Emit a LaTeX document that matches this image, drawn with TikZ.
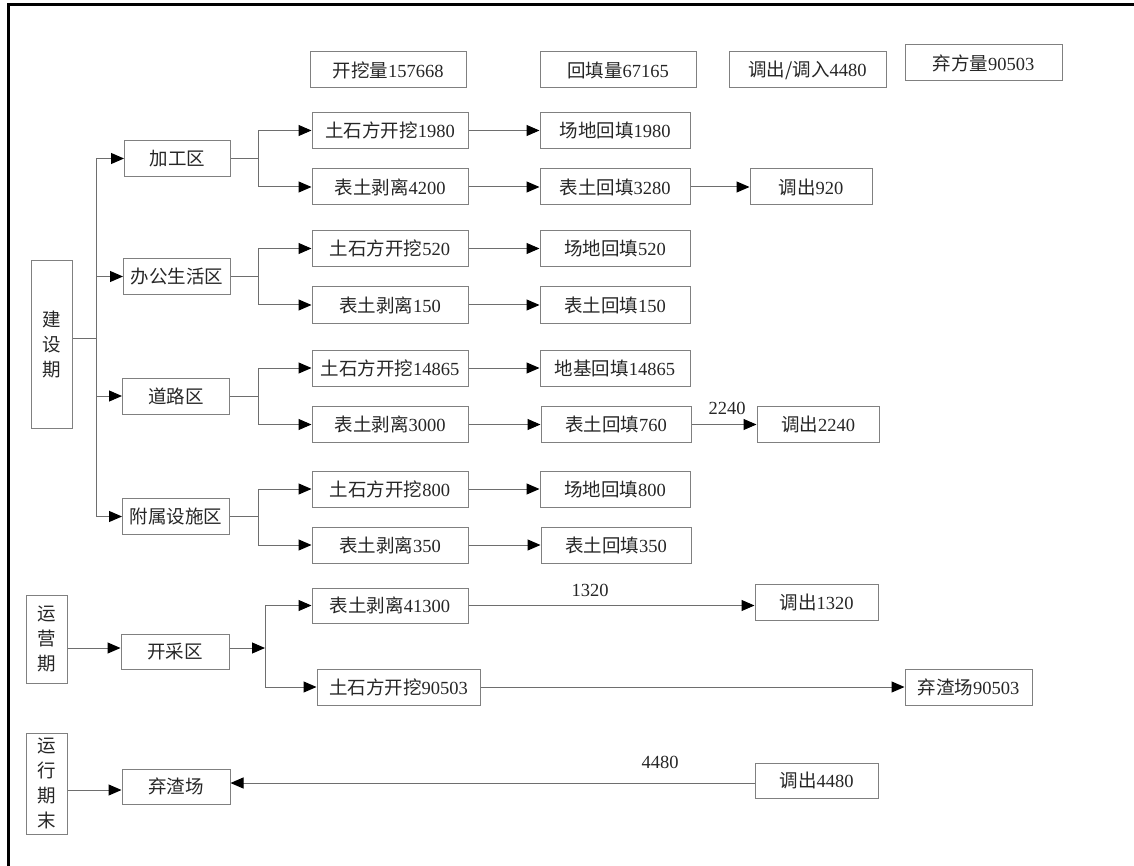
\documentclass[tikz,border=0pt]{standalone}
\usepackage{fontspec}
\setmainfont{Liberation Serif}
\newfontfamily\cjk{Noto Sans CJK SC}
\newcommand\zh[1]{{\cjk #1}}
\usetikzlibrary{arrows.meta}
\definecolor{boxgray}{RGB}{128,128,128}
\definecolor{linegray}{RGB}{110,110,110}
\tikzset{
  box/.style={draw=boxgray, line width=1pt, minimum height=36pt, inner sep=0pt,
    font=\fontsize{18.5}{25}\selectfont, text=black!85},
  vbox/.style={box, align=center, text width=41pt},
  conn/.style={draw=linegray, line width=1pt},
  arr/.style={conn, -{Triangle[length=13pt,width=11pt,color=black]}},
  lbl/.style={font=\fontsize{18.5}{20}\selectfont, inner sep=0pt, text=black!85}
}
\begin{document}
\begin{tikzpicture}[x=1pt,y=-1pt]
\useasboundingbox (0,0) rectangle (1134,866);
\draw[line width=3pt] (8,866) -- (8,5) -- (1134,5);

% summary boxes
\node[box, minimum width=156pt] (sum1) at (388,70) {\zh{开挖量}157668};
\node[box, minimum width=156pt] (sum2) at (618,70) {\zh{回填量}67165};
\node[box, minimum width=157pt] (sum3) at (807.5,70) {\zh{调出/调入}4480};
\node[box, minimum width=157pt] (sum4) at (983.5,63) {\zh{弃方量}90503};

% construction period
\node[vbox, minimum height=167pt] (jsq) at (51.5,344.5) {\zh{建}\\\zh{设}\\\zh{期}};
\node[box, minimum width=106pt] (jgq) at (177.5,158.5) {\zh{加工区}};
\node[box, minimum width=107pt] (bg) at (177,276.5) {\zh{办公生活区}};
\node[box, minimum width=107pt] (dl) at (176,396) {\zh{道路区}};
\node[box, minimum width=107pt] (fs) at (176,516.5) {\zh{附属设施区}};

\node[box, minimum width=156pt] (a1) at (390,130.5) {\zh{土石方开挖}1980};
\node[box, minimum width=156pt] (a2) at (390,187) {\zh{表土剥离}4200};
\node[box, minimum width=156pt] (b1) at (390,248.5) {\zh{土石方开挖}520};
\node[box, minimum width=156pt] (b2) at (390,305) {\zh{表土剥离}150};
\node[box, minimum width=156pt] (c1) at (390,368) {\zh{土石方开挖}14865};
\node[box, minimum width=156pt] (c2) at (390,424.5) {\zh{表土剥离}3000};
\node[box, minimum width=156pt] (d1) at (390,489) {\zh{土石方开挖}800};
\node[box, minimum width=156pt] (d2) at (390,545) {\zh{表土剥离}350};

\node[box, minimum width=150pt] (a1r) at (615,130.5) {\zh{场地回填}1980};
\node[box, minimum width=150pt] (a2r) at (615,187) {\zh{表土回填}3280};
\node[box, minimum width=150pt] (b1r) at (615,248.5) {\zh{场地回填}520};
\node[box, minimum width=150pt] (b2r) at (615,305) {\zh{表土回填}150};
\node[box, minimum width=150pt] (c1r) at (615,368) {\zh{地基回填}14865};
\node[box, minimum width=150pt] (c2r) at (616,424.5) {\zh{表土回填}760};
\node[box, minimum width=150pt] (d1r) at (615,489) {\zh{场地回填}800};
\node[box, minimum width=150pt] (d2r) at (616,545) {\zh{表土回填}350};

\node[box, minimum width=122pt] (a2x) at (811,187) {\zh{调出}920};
\node[box, minimum width=122pt] (c2x) at (818,424.5) {\zh{调出}2240};

\coordinate (t1) at (96,338);
\draw[conn] (jsq.east |- t1) -- (t1);
\draw[conn] (t1 |- jgq) -- (t1 |- fs);
\foreach \z in {jgq,bg,dl,fs} \draw[arr] (t1 |- \z) -- (\z);

\coordinate (br) at (258,0);
\foreach \z/\u/\l in {jgq/a1/a2, bg/b1/b2, dl/c1/c2, fs/d1/d2} {
  \draw[conn] (\z) -- (br |- \z);
  \draw[conn] (br |- \u) -- (br |- \l);
  \draw[arr] (br |- \u) -- (\u);
  \draw[arr] (br |- \l) -- (\l);
  \draw[arr] (\u) -- (\u r);
  \draw[arr] (\l) -- (\l r);
}
\draw[arr] (a2r) -- (a2x);
\draw[arr] (c2r) -- (c2x);
\node[lbl] (l2240) at (727,408) {2240};

% operation period
\node[vbox, minimum height=88pt] (yyq) at (46.5,639) {\zh{运}\\\zh{营}\\\zh{期}};
\node[box, minimum width=108pt, minimum height=35pt] (kcq) at (175,651.5) {\zh{开采区}};
\coordinate (jn) at (265,648);
\node[box, minimum width=156pt, minimum height=35pt] (e1) at (390,605.5) {\zh{表土剥离}41300};
\node[box, minimum width=163pt] (e2) at (398.5,687) {\zh{土石方开挖}90503};
\node[box, minimum width=123pt] (e1x) at (816.5,602) {\zh{调出}1320};
\node[box, minimum width=127pt] (e2x) at (968.5,687) {\zh{弃渣场}90503};
\draw[arr] (yyq.east |- jn) -- (kcq.west |- jn);
\draw[arr] (kcq.east |- jn) -- (jn);
\draw[conn] (jn |- e1) -- (jn |- e2);
\draw[arr] (jn |- e1) -- (e1);
\draw[arr] (jn |- e2) -- (e2);
\draw[arr] (e1) -- (e1.east -| e1x.west);
\draw[arr] (e2) -- (e2x);
\node[lbl] (l1320) at (590,590) {1320};

% end of operation
\node[vbox, minimum height=101pt] (yxq) at (46.5,783.5) {\zh{运}\\\zh{行}\\\zh{期}\\\zh{末}};
\node[box, minimum width=108pt, minimum height=35pt] (qzc) at (176,786.5) {\zh{弃渣场}};
\node[box, minimum width=123pt, minimum height=35pt] (dc) at (816.5,780.5) {\zh{调出}4480};
\coordinate (q1) at (0,790);
\coordinate (q2) at (0,783);
\draw[arr] (yxq.east |- q1) -- (qzc.west |- q1);
\draw[arr] (dc.west |- q2) -- (qzc.east |- q2);
\node[lbl] (l4480) at (660,762) {4480};
\end{tikzpicture}
\end{document}
